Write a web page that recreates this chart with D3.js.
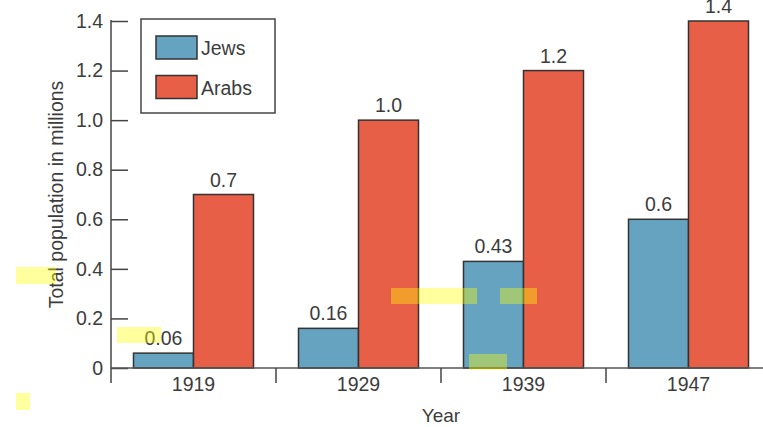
<!DOCTYPE html>
<html>
<head>
<meta charset="utf-8">
<script src="https://cdn.jsdelivr.net/npm/d3@7/dist/d3.min.js"></script>
<style>
  html, body { margin: 0; padding: 0; background: #fff; }
  svg { display: block; font-family: "Liberation Sans", Arial, Helvetica, sans-serif; }
</style>
</head>
<body>
<svg id="chart" width="763" height="427"></svg>
<script>
// Population of Palestine by year, in millions
const years = ["1919", "1929", "1939", "1947"];
const seriesNames = ["Jews", "Arabs"];
const jews = [0.06, 0.16, 0.43, 0.6];
const arabs = [0.7, 1.0, 1.2, 1.4];
const valueLabels = {
  Jews: ["0.06", "0.16", "0.43", "0.6"],
  Arabs: ["0.7", "1.0", "1.2", "1.4"]
};
const yTicks = [0, 0.2, 0.4, 0.6, 0.8, 1.0, 1.2, 1.4];

const colors = { Jews: "#66a3c1", Arabs: "#e85f47" };
const ink = "#3c3c3c";

const svg = d3.select("#chart");

const axisX = 111, baseY = 368, topY = 21;

const y = d3.scaleLinear().domain([0, 1.4]).range([baseY, topY]);
const x0 = d3.scaleBand().domain(years).range([axisX, 771]).padding(0);
const x1 = d3.scaleBand().domain(seriesNames).range([0, x0.bandwidth()])
  .paddingInner(0).paddingOuter(0.375);

const rows = years.map((yr, i) => ({
  year: yr,
  values: [
    { key: "Jews", value: jews[i], label: valueLabels.Jews[i] },
    { key: "Arabs", value: arabs[i], label: valueLabels.Arabs[i] }
  ]
}));

// Bars
const groups = svg.append("g").selectAll("g").data(rows).join("g")
  .attr("transform", d => `translate(${x0(d.year)},0)`);

groups.selectAll("rect").data(d => d.values).join("rect")
  .attr("x", d => x1(d.key))
  .attr("y", d => y(d.value))
  .attr("width", x1.bandwidth())
  .attr("height", d => y(0) - y(d.value))
  .attr("fill", d => colors[d.key])
  .attr("stroke", "#333")
  .attr("stroke-width", 1.5);

groups.selectAll("text").data(d => d.values).join("text")
  .attr("x", d => x1(d.key) + x1.bandwidth() / 2)
  .attr("y", d => y(d.value) - 8)
  .attr("text-anchor", "middle")
  .attr("font-size", 19.5)
  .attr("fill", ink)
  .text(d => d.label);

// Y axis: inward ticks, labels on the left
const yAxis = d3.axisLeft(y)
  .tickValues(yTicks)
  .tickSizeInner(-17)
  .tickSizeOuter(0)
  .tickPadding(8)
  .tickFormat(d => d === 0 ? "0" : d3.format(".1f")(d));

const gy = svg.append("g").attr("transform", `translate(${axisX},0)`).call(yAxis);
gy.select(".domain").remove();
gy.selectAll(".tick line").attr("stroke", "#444").attr("stroke-width", 1.5);
gy.selectAll(".tick text").attr("font-size", 19.5).attr("fill", ink)
  .attr("font-family", "Liberation Sans, Arial, sans-serif");
svg.append("line")
  .attr("x1", axisX).attr("x2", axisX)
  .attr("y1", y(1.4) - 1).attr("y2", baseY + 15)
  .attr("stroke", "#444").attr("stroke-width", 1.5);

// X axis: baseline, group separators, year labels
svg.append("line")
  .attr("x1", axisX).attr("x2", 763)
  .attr("y1", baseY).attr("y2", baseY)
  .attr("stroke", "#555").attr("stroke-width", 1.5);

svg.append("g").selectAll("line").data(years.slice(1)).join("line")
  .attr("x1", d => x0(d)).attr("x2", d => x0(d))
  .attr("y1", baseY).attr("y2", baseY + 15)
  .attr("stroke", "#444").attr("stroke-width", 1.5);

const xAxis = d3.axisBottom(x0).tickSize(0).tickPadding(0);
const gx = svg.append("g").attr("transform", `translate(0,${baseY})`).call(xAxis);
gx.select(".domain").remove();
gx.selectAll(".tick text")
  .attr("y", 23).attr("dy", 0)
  .attr("font-size", 19.5).attr("fill", ink)
  .attr("font-family", "Liberation Sans, Arial, sans-serif");

// Axis titles
svg.append("text")
  .attr("x", (axisX + 771) / 2 - 0)
  .attr("y", 422)
  .attr("text-anchor", "middle")
  .attr("font-size", 19)
  .attr("fill", ink)
  .text("Year");

svg.append("text")
  .attr("transform", `translate(63,${(y(0) + y(1.4)) / 2}) rotate(-90)`)
  .attr("text-anchor", "middle")
  .attr("font-size", 19.5)
  .attr("fill", ink)
  .text("Total population in millions");

// Legend
const legend = svg.append("g");
legend.append("rect")
  .attr("x", 141).attr("y", 19).attr("width", 134).attr("height", 94)
  .attr("fill", "#fff").attr("stroke", "#444").attr("stroke-width", 1.5);
const items = legend.selectAll("g.item").data(seriesNames).join("g")
  .attr("class", "item")
  .attr("transform", (d, i) => `translate(156,${36 + i * 39.5})`);
items.append("rect")
  .attr("width", 41).attr("height", 23)
  .attr("fill", d => colors[d]).attr("stroke", "#333").attr("stroke-width", 1.5);
items.append("text")
  .attr("x", 45).attr("y", 19)
  .attr("font-size", 19.5).attr("fill", ink)
  .text(d => d);

// Highlighter marks on the page
const highlights = [
  [16, 267, 40, 17], [117, 327, 44, 16], [16, 393, 14, 17],
  [391, 288, 86, 16], [500, 288, 37, 16], [469, 354, 38, 16]
];
svg.append("g").selectAll("rect").data(highlights).join("rect")
  .attr("x", d => d[0]).attr("y", d => d[1])
  .attr("width", d => d[2]).attr("height", d => d[3])
  .attr("fill", "#ffff00").attr("opacity", 0.38);
</script>
</body>
</html>
